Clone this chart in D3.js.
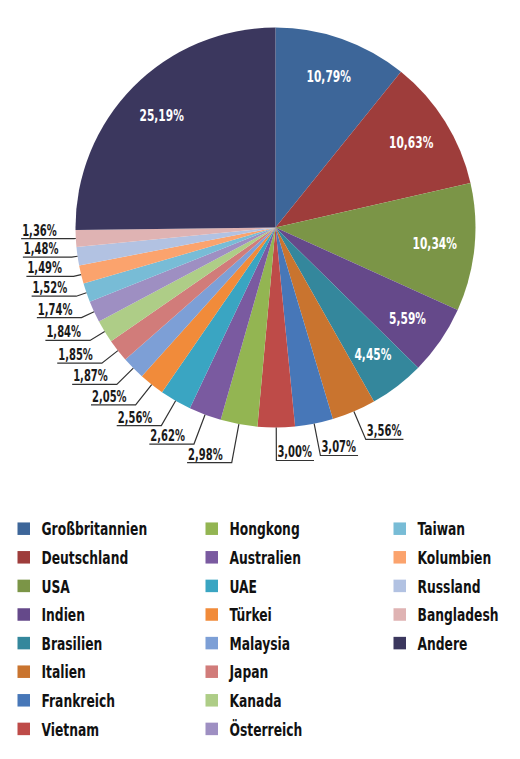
<!DOCTYPE html>
<html>
<head>
<meta charset="utf-8">
<script src="https://cdn.jsdelivr.net/npm/d3@7"></script>
<style>
  body { margin: 0; background: #fff; }
  svg { display: block; }
  text { font-family: "DejaVu Sans Condensed", "Liberation Sans Narrow", sans-serif; font-weight: bold; }
</style>
</head>
<body>
<svg id="chart" width="520" height="759"></svg>
<script>
// shares in percent, clockwise from 12 o'clock
var countries = ['Großbritannien', 'Deutschland', 'USA', 'Indien', 'Brasilien', 'Italien', 'Frankreich',
  'Vietnam', 'Hongkong', 'Australien', 'UAE', 'Türkei', 'Malaysia', 'Japan', 'Kanada', 'Österreich',
  'Taiwan', 'Kolumbien', 'Russland', 'Bangladesh', 'Andere'];
var shares = [10.79, 10.63, 10.34, 5.59, 4.45, 3.56, 3.07, 3.00, 2.98, 2.62, 2.56, 2.05, 1.87, 1.85,
  1.84, 1.74, 1.52, 1.49, 1.48, 1.36, 25.19];
var colors = ['#3d6699', '#9e3d3b', '#7b9547', '#65498a', '#34879c', '#c9742f', '#4777b8',
  '#be4b48', '#93b552', '#7a5aa0', '#3aa5c2', '#f18b3a', '#7d9fd6', '#d17c7a', '#aecd87',
  '#9e8fc2', '#78bcd6', '#fba36d', '#b2c2e2', '#dfb3b3', '#3b375e'];

var cx = 275.5, cy = 227.5, radius = 200;
var squeeze = 0.74; // no condensed bold font here, so squash horizontally
var svg = d3.select('#chart');

var fmt = d3.format('.2f');
var pct = function(v) { return fmt(v).replace('.', ',') + '%'; };
var place = function(x, y) { return 'translate(' + x + ',' + y + ') scale(' + squeeze + ',1)'; };

var color = d3.scaleOrdinal().domain(countries).range(colors);
var data = countries.map(function(c, i) { return { name: c, value: shares[i] }; });
var arcs = d3.pie().sort(null).value(function(d) { return d.value; })(data);
var arc = d3.arc().innerRadius(0).outerRadius(radius);
var labelArc = d3.arc().innerRadius(160).outerRadius(160);

var g = svg.append('g').attr('transform', 'translate(' + cx + ',' + cy + ')');

g.selectAll('path.slice')
  .data(arcs)
  .enter()
  .append('path')
  .attr('class', 'slice')
  .attr('d', arc)
  .attr('fill', function(d) { return color(d.data.name); });

// big slices get a white label inside
var big = arcs.filter(function(d) { return d.value > 4; });
g.selectAll('text.inside')
  .data(big)
  .enter()
  .append('text')
  .attr('class', 'inside')
  .attr('transform', function(d) { var c = labelArc.centroid(d); return place(c[0], c[1]); })
  .attr('text-anchor', 'middle')
  .attr('dy', '0.36em')
  .attr('fill', '#fff')
  .style('font-size', '16px')
  .text(function(d) { return pct(d.value); });

// small slices: leader line + underlined label outside
var small = arcs.filter(function(d) { return d.value <= 4; }).map(function(d) {
  var mid = (d.startAngle + d.endAngle) / 2;
  var sx = Math.sin(mid), sy = -Math.cos(mid);
  var ex = radius * sx, ey = radius * sy;
  var t = 33 * Math.abs(sy);
  return { d: d, mid: mid, sx: sx, sy: sy, ex: ex, ey: ey, ly: ey + t * sy, left: mid > Math.PI };
});

// push left side labels apart downwards
var leftSide = small.filter(function(o) { return o.left; }).sort(function(a, b) { return a.ly - b.ly; });
for (var i = 1; i < leftSide.length; i++) {
  leftSide[i].ly = Math.max(leftSide[i].ly, leftSide[i - 1].ly + 18.5);
}

small.forEach(function(o) {
  var t = Math.abs(o.sy) > 0.01 ? (o.ly - o.ey) / o.sy : 0;
  o.bx = o.ex + t * o.sx;
  if (o.left) {
    var r = 219, dy = Math.min(Math.abs(o.ly), r);
    o.tx = Math.min(o.bx - 9, -Math.sqrt(r * r - dy * dy));
  } else {
    o.tx = o.bx + 1;
  }
});

var outer = g.selectAll('g.outside')
  .data(small)
  .enter()
  .append('g')
  .attr('class', 'outside');

outer.append('text')
  .attr('fill', '#1a1a1a')
  .style('font-size', '15px')
  .attr('transform', function(o) { return place(o.tx, o.ly - 3); })
  .attr('text-anchor', function(o) { return o.left ? 'end' : 'start'; })
  .text(function(o) { return pct(o.d.value); })
  .each(function(o) {
    var w = this.getComputedTextLength() * squeeze;
    o.ux0 = o.left ? o.tx - w - 1 : o.bx;
    o.ux1 = o.left ? o.bx : o.tx + w + 2;
  });

outer.append('polyline')
  .attr('fill', 'none')
  .attr('stroke', '#333')
  .attr('stroke-width', 1.2)
  .attr('points', function(o) {
    var far = o.left ? o.ux0 : o.ux1;
    return [[o.ex, o.ey], [o.bx, o.ly], [far, o.ly]].join(' ');
  });

// legend, three columns
var perCol = 8;
var colX = d3.scalePoint().domain([0, 1, 2]).range([17.5, 393.5]);
var rowY = d3.scalePoint().domain(d3.range(perCol)).range([528.7, 728.9]);
var box = 12.5;

var legend = svg.selectAll('g.legend')
  .data(countries)
  .enter()
  .append('g')
  .attr('class', 'legend')
  .attr('transform', function(c, i) {
    return 'translate(' + colX(Math.floor(i / perCol)) + ',' + rowY(i % perCol) + ')';
  });

legend.append('rect')
  .attr('x', 0)
  .attr('y', -box / 2)
  .attr('width', box)
  .attr('height', box)
  .attr('fill', function(c) { return color(c); });

legend.append('text')
  .attr('transform', place(24, 0))
  .attr('dy', '0.36em')
  .attr('fill', '#111')
  .style('font-size', '18.5px')
  .text(function(c) { return c; });
</script>
</body>
</html>
